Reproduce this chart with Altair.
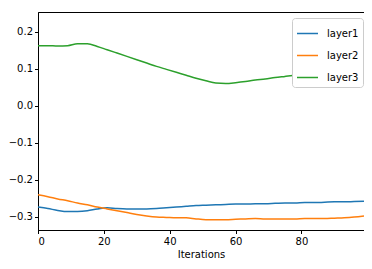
import altair as alt
import pandas as pd

iterations = list(range(0, 100, 3))

layer1 = [-0.274, -0.278, -0.283, -0.286, -0.286, -0.284, -0.279, -0.276, -0.278, -0.279,
          -0.279, -0.279, -0.278, -0.276, -0.274, -0.272, -0.270, -0.269, -0.268, -0.267,
          -0.266, -0.266, -0.265, -0.265, -0.264, -0.263, -0.263, -0.262, -0.262, -0.261,
          -0.260, -0.260, -0.259, -0.258]

layer2 = [-0.241, -0.246, -0.252, -0.257, -0.263, -0.268, -0.274, -0.279, -0.284, -0.289,
          -0.294, -0.298, -0.301, -0.302, -0.303, -0.303, -0.306, -0.308, -0.308, -0.308,
          -0.307, -0.306, -0.305, -0.306, -0.306, -0.306, -0.306, -0.305, -0.305, -0.305,
          -0.304, -0.303, -0.301, -0.298]

layer3 = [0.162, 0.162, 0.161, 0.162, 0.167, 0.167, 0.160, 0.151, 0.142, 0.133,
          0.124, 0.115, 0.106, 0.098, 0.090, 0.082, 0.074, 0.067, 0.061, 0.060,
          0.062, 0.065, 0.069, 0.072, 0.076, 0.079, 0.082, 0.085, 0.088, 0.091,
          0.094, 0.097, 0.100, 0.104]

series_names = ["layer1", "layer2", "layer3"]
series_colors = ["#1f77b4", "#ff7f0e", "#2ca02c"]
x_ticks = [0, 20, 40, 60, 80]
y_ticks = [-0.3, -0.2, -0.1, 0.0, 0.1, 0.2]

rows = []
for name, vals in zip(series_names, [layer1, layer2, layer3]):
    for it, v in zip(iterations, vals):
        rows.append({"Iterations": it, "value": v, "series": name})
df = pd.DataFrame(rows)

FONT = "DejaVu Sans"

chart = alt.Chart(df).mark_line(strokeWidth=1.5, interpolate="monotone").encode(
    x=alt.X("Iterations:Q",
            scale=alt.Scale(domain=[0, 99], nice=False, zero=False),
            axis=alt.Axis(values=x_ticks, title="Iterations", grid=False, format="d",
                          tickSize=3.5, labelPadding=3, titlePadding=3,
                          titleFontWeight="normal")),
    y=alt.Y("value:Q",
            scale=alt.Scale(domain=[-0.336, 0.253], nice=False, zero=False),
            axis=alt.Axis(values=y_ticks, title=None, grid=False, format=".1f",
                          tickSize=3.5, labelPadding=2)),
    color=alt.Color("series:N",
                    scale=alt.Scale(domain=series_names, range=series_colors),
                    legend=alt.Legend(title=None, orient="none", legendX=254, legendY=6,
                                      fillColor="white", strokeColor="#cccccc",
                                      cornerRadius=3, padding=4, rowPadding=5,
                                      symbolType="stroke", symbolStrokeWidth=1.5,
                                      symbolSize=441, labelOffset=8, labelFontSize=10,
                                      labelFont=FONT, labelColor="black")),
).properties(
    width=326,
    height=218,
    autosize=alt.AutoSizeParams(type="none"),
    padding={"left": 30, "top": 4, "right": 0, "bottom": 30},
).configure_view(
    stroke="black", strokeWidth=1
).configure_axis(
    domainColor="black", tickColor="black", labelColor="black", titleColor="black",
    labelFont=FONT, titleFont=FONT, labelFontSize=10, titleFontSize=10,
    domainWidth=1, tickWidth=1
)

chart.save("out.html", embed_options={"renderer": "svg", "actions": False})
